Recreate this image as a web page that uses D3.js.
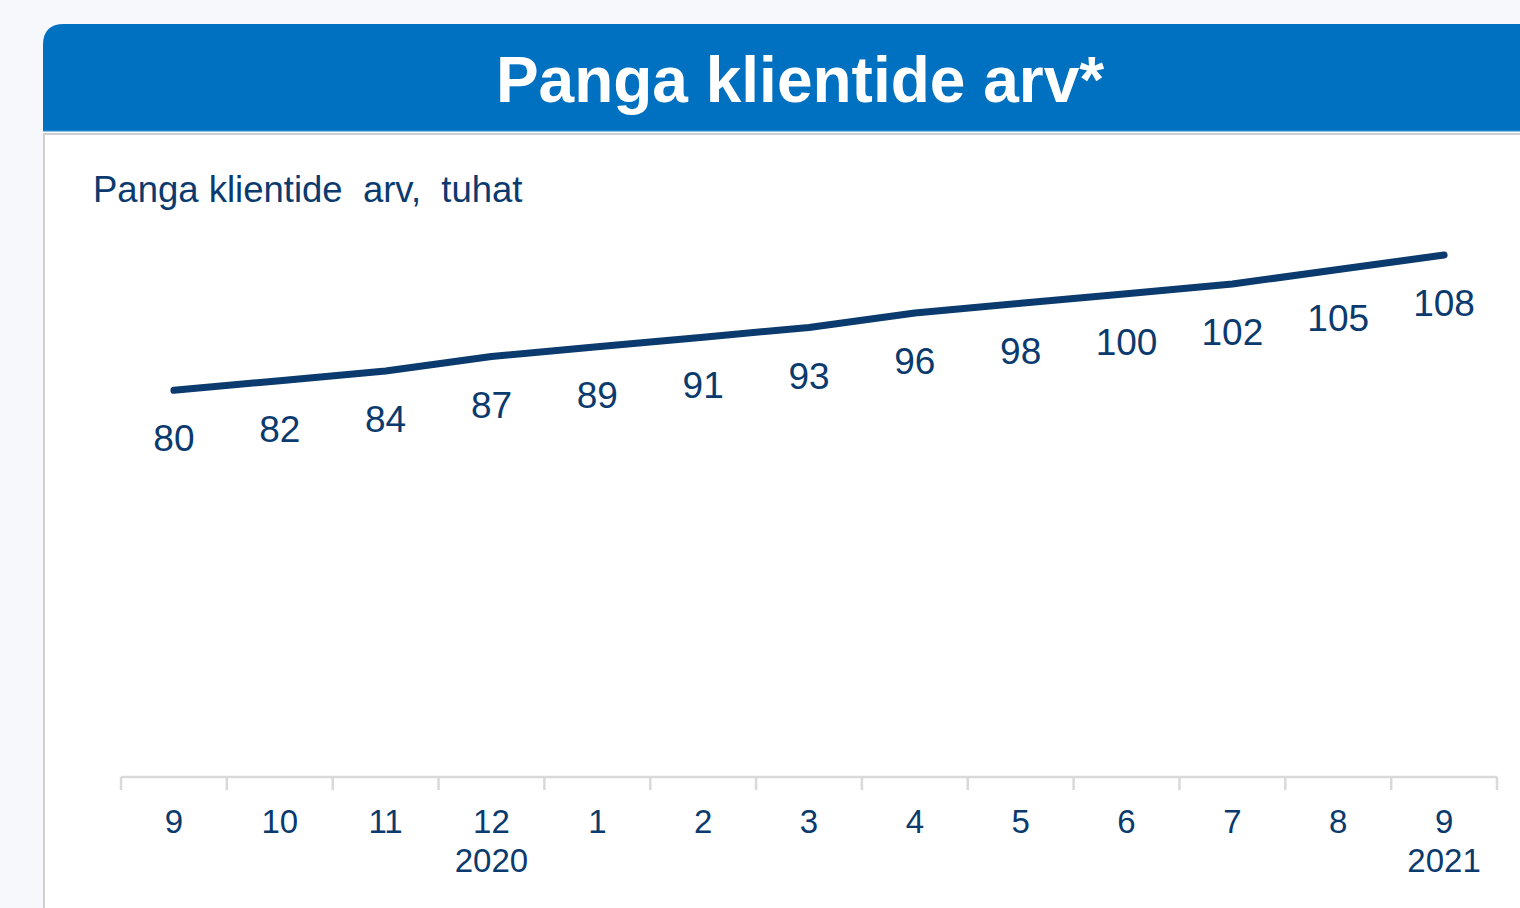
<!DOCTYPE html>
<html>
<head>
    <title>Panga klientide arv</title>
    <script src="https://d3js.org/d3.v7.min.js"></script>
    <style>
        body { margin: 0; background: #f7f8fc; }
        svg { display: block; font-family: "Liberation Sans", Arial, sans-serif; }
    </style>
</head>
<body>
    <div id="chart"></div>
    <script>
const months = ['9', '10', '11', '12', '1', '2', '3', '4', '5', '6', '7', '8', '9'];
const years = ['', '', '', '2020', '', '', '', '', '', '', '', '', '2021'];
const clients = [80, 82, 84, 87, 89, 91, 93, 96, 98, 100, 102, 105, 108];

const width = 1520;
const height = 908;
const navy = '#0a3a6e';

const svg = d3.select('#chart')
    .append('svg')
    .attr('width', width)
    .attr('height', height);

// white panel with grey border
svg.append('rect')
    .attr('x', 44)
    .attr('y', 134)
    .attr('width', width)
    .attr('height', height)
    .attr('fill', '#fff')
    .attr('stroke', '#cfcfcf')
    .attr('stroke-width', 2);

// blue header, rounded top-left corner
svg.append('path')
    .attr('d', 'M43,131 L43,45 Q43,24 64,24 L1530,24 L1530,131 Z')
    .attr('fill', '#0070c0');
svg.append('line')
    .attr('x1', 43).attr('x2', width)
    .attr('y1', 131).attr('y2', 131)
    .attr('stroke', '#2a8fd6')
    .attr('stroke-width', 1);

svg.append('text')
    .attr('x', 800)
    .attr('y', 102)
    .attr('text-anchor', 'middle')
    .attr('fill', '#fff')
    .attr('font-weight', 'bold')
    .attr('font-size', 64)
    .text('Panga klientide arv*');

svg.append('text')
    .attr('x', 93)
    .attr('y', 202)
    .attr('fill', navy)
    .attr('font-size', 36.5)
    .style('white-space', 'pre')
    .text('Panga klientide  arv,  tuhat');

const x = d3.scaleBand()
    .domain(d3.range(months.length))
    .range([121, 1497]);

const y = d3.scaleLinear()
    .domain([0, 120])
    .range([777, 197]);

// axis line and category separators
svg.append('line')
    .attr('x1', 121).attr('x2', 1497)
    .attr('y1', 777).attr('y2', 777)
    .attr('stroke', '#d9d9d9')
    .attr('stroke-width', 2.5);

svg.append('g')
    .selectAll('line')
    .data(d3.range(months.length + 1))
    .enter()
    .append('line')
    .attr('x1', d => 121 + d * x.step())
    .attr('x2', d => 121 + d * x.step())
    .attr('y1', 777)
    .attr('y2', 790)
    .attr('stroke', '#d9d9d9')
    .attr('stroke-width', 2.5);

svg.append('g')
    .selectAll('text')
    .data(months)
    .enter()
    .append('text')
    .attr('x', (d, i) => x(i) + x.bandwidth() / 2)
    .attr('y', 833)
    .attr('text-anchor', 'middle')
    .attr('fill', navy)
    .attr('font-size', 33)
    .text(d => d);

svg.append('g')
    .selectAll('text')
    .data(years)
    .enter()
    .append('text')
    .attr('x', (d, i) => x(i) + x.bandwidth() / 2)
    .attr('y', 872)
    .attr('text-anchor', 'middle')
    .attr('fill', navy)
    .attr('font-size', 33)
    .text(d => d);

// line
const line = d3.line()
    .x((d, i) => x(i) + x.bandwidth() / 2)
    .y(d => y(d));

svg.append('path')
    .datum(clients)
    .attr('d', line)
    .attr('fill', 'none')
    .attr('stroke', navy)
    .attr('stroke-width', 7)
    .attr('stroke-linecap', 'round')
    .attr('stroke-linejoin', 'round');

svg.append('g')
    .selectAll('text')
    .data(clients)
    .enter()
    .append('text')
    .attr('x', (d, i) => x(i) + x.bandwidth() / 2)
    .attr('y', d => y(d) + 61)
    .attr('text-anchor', 'middle')
    .attr('fill', navy)
    .attr('font-size', 37)
    .text(d => d);
    </script>
</body>
</html>
